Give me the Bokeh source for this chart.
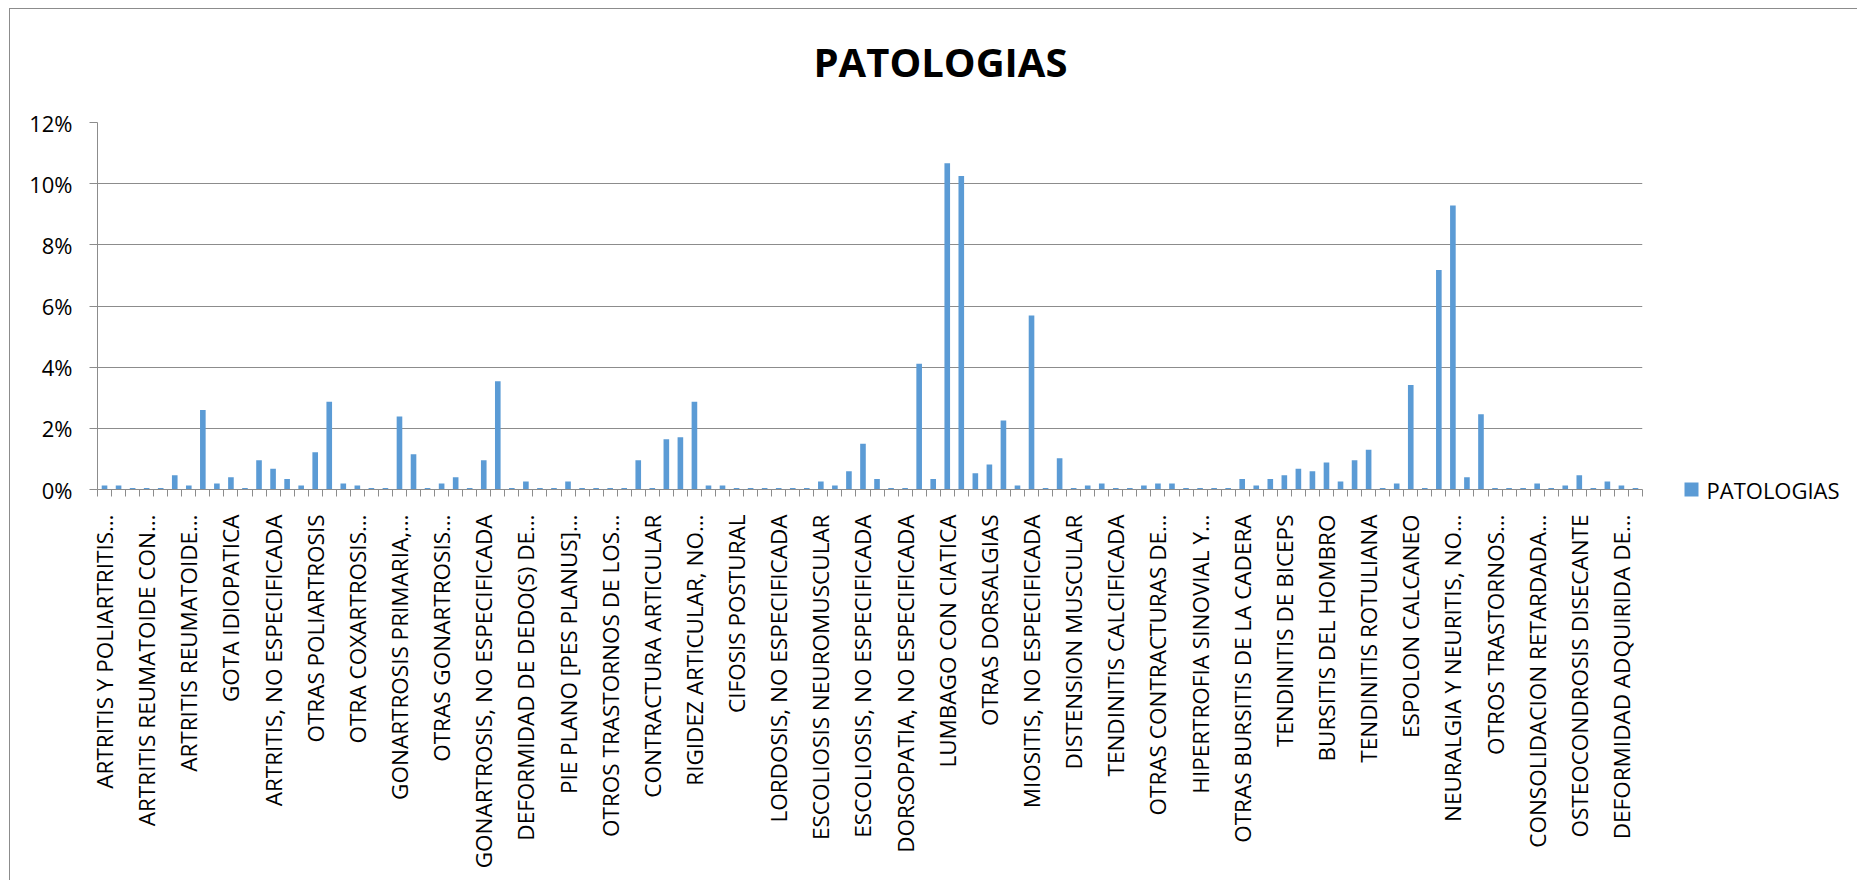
import math
from bokeh.plotting import figure
from bokeh.models import FixedTicker, NumeralTickFormatter, Range1d, LinearAxis
from bokeh.embed import file_html
from bokeh.resources import INLINE

# Percent share of each pathology (110 categories)
values_pct = [
    0.13, 0.13, 0.05, 0.05, 0.05, 0.47, 0.13, 2.60, 0.20, 0.40,
    0.05, 0.96, 0.68, 0.34, 0.13, 1.22, 2.87, 0.20, 0.13, 0.05,
    0.05, 2.39, 1.15, 0.05, 0.20, 0.40, 0.05, 0.96, 3.54, 0.05,
    0.26, 0.05, 0.05, 0.26, 0.05, 0.05, 0.05, 0.05, 0.96, 0.05,
    1.64, 1.71, 2.87, 0.13, 0.13, 0.05, 0.05, 0.05, 0.05, 0.05,
    0.05, 0.26, 0.13, 0.60, 1.50, 0.34, 0.05, 0.05, 4.11, 0.34,
    10.67, 10.25, 0.53, 0.82, 2.26, 0.13, 5.69, 0.05, 1.02, 0.05,
    0.13, 0.20, 0.05, 0.05, 0.13, 0.20, 0.20, 0.05, 0.05, 0.05,
    0.05, 0.34, 0.13, 0.34, 0.47, 0.68, 0.60, 0.88, 0.26, 0.96,
    1.30, 0.05, 0.20, 3.42, 0.05, 7.18, 9.29, 0.40, 2.46, 0.05,
    0.05, 0.05, 0.20, 0.05, 0.13, 0.47, 0.05, 0.26, 0.13, 0.05,
]

# Category labels shown on the axis (every third category)
tick_labels = [
    "ARTRITIS Y POLIARTRITIS…",
    "ARTRITIS REUMATOIDE CON…",
    "ARTRITIS REUMATOIDE…",
    "GOTA IDIOPATICA",
    "ARTRITIS, NO ESPECIFICADA",
    "OTRAS POLIARTROSIS",
    "OTRA COXARTROSIS…",
    "GONARTROSIS PRIMARIA,…",
    "OTRAS GONARTROSIS…",
    "GONARTROSIS, NO ESPECIFICADA",
    "DEFORMIDAD DE DEDO(S) DE…",
    "PIE PLANO [PES PLANUS]…",
    "OTROS TRASTORNOS DE LOS…",
    "CONTRACTURA ARTICULAR",
    "RIGIDEZ ARTICULAR, NO…",
    "CIFOSIS POSTURAL",
    "LORDOSIS, NO ESPECIFICADA",
    "ESCOLIOSIS NEUROMUSCULAR",
    "ESCOLIOSIS, NO ESPECIFICADA",
    "DORSOPATIA, NO ESPECIFICADA",
    "LUMBAGO CON CIATICA",
    "OTRAS DORSALGIAS",
    "MIOSITIS, NO ESPECIFICADA",
    "DISTENSION MUSCULAR",
    "TENDINITIS CALCIFICADA",
    "OTRAS CONTRACTURAS DE…",
    "HIPERTROFIA SINOVIAL Y…",
    "OTRAS BURSITIS DE LA CADERA",
    "TENDINITIS DE BICEPS",
    "BURSITIS DEL HOMBRO",
    "TENDINITIS ROTULIANA",
    "ESPOLON CALCANEO",
    "NEURALGIA Y NEURITIS, NO…",
    "OTROS TRASTORNOS…",
    "CONSOLIDACION RETARDADA…",
    "OSTEOCONDROSIS DISECANTE",
    "DEFORMIDAD ADQUIRIDA DE…",
]
label_step = 3

y_ticks_pct = [0, 2, 4, 6, 8, 10, 12]
series_name = "PATOLOGIAS"
title_text = "PATOLOGIAS"

n = len(values_pct)
xs = list(range(n))
tops = [v / 100.0 for v in values_pct]
label_pos = [i * label_step for i in range(len(tick_labels))]

FONT = "Open Sans"
GRID = "#8c8c8c"
BAR = "#5B9BD5"

p = figure(
    width=1850, height=874,
    output_backend="svg", toolbar_location=None,
    x_range=Range1d(-0.5, n - 0.5), y_range=Range1d(0, y_ticks_pct[-1] / 100.0),
    min_border_left=87, min_border_right=218, min_border_top=113, min_border_bottom=394,
    title=title_text,
)
p.outline_line_color = None
p.background_fill_color = "white"
p.border_fill_color = "white"
p.styles = {
    "margin-left": "9px", "margin-top": "8px",
    "border-left": "1px solid #8c8c8c", "border-top": "1px solid #8c8c8c",
    "clip-path": "inset(0px 2px 2px 0px)",
}

p.title.text_font = FONT
p.title.text_font_size = "40px"
p.title.text_font_style = "bold"
p.title.text_color = "black"
p.title.align = "left"
p.title.vertical_align = "top"
p.title.offset = 716
p.title.standoff = 10

r = p.vbar(x=xs, top=tops, width=0.4, fill_color=BAR, line_color=None)

# y axis
yax = p.left[0]
yax.ticker = FixedTicker(ticks=[t / 100.0 for t in y_ticks_pct])
yax.formatter = NumeralTickFormatter(format="0%")
yax.axis_line_color = GRID
yax.major_tick_line_color = GRID
yax.major_tick_out = 8
yax.major_tick_in = 0
yax.minor_tick_line_color = None
yax.major_label_standoff = 17
yax.major_label_text_font = FONT
yax.major_label_text_font_size = "22px"
yax.major_label_text_color = "black"

p.ygrid.grid_line_color = GRID
p.xgrid.visible = False

# x axis
xax = p.below[0]
xax.ticker = FixedTicker(ticks=label_pos, minor_ticks=[i - 0.5 for i in range(n + 1)])
xax.major_label_overrides = {pos: lab for pos, lab in zip(label_pos, tick_labels)}
xax.axis_line_color = GRID
xax.major_tick_line_color = None
xax.major_tick_out = 0
xax.major_tick_in = 0
xax.minor_tick_line_color = GRID
xax.minor_tick_out = 7
xax.minor_tick_in = 0
xax.major_label_orientation = math.pi / 2
xax.major_label_standoff = 18
xax.major_label_text_font = FONT
xax.major_label_text_font_size = "22.5px"
xax.major_label_text_color = "black"


def spacer_axis(size):
    ax = LinearAxis(ticker=FixedTicker(ticks=[0]))
    ax.axis_line_color = None
    ax.major_tick_line_color = None
    ax.major_tick_out = size
    ax.major_tick_in = 0
    ax.minor_tick_line_color = None
    ax.major_label_overrides = {0: ""}
    ax.major_label_standoff = 0
    ax.major_label_text_font_size = "0px"
    return ax


# spacer between the plot area and the title
p.add_layout(spacer_axis(27), "above")

# Legend (drawn in the right panel: a spacer axis, then the key swatch + series name)
p.add_layout(spacer_axis(42), "right")

ax_leg = LinearAxis(ticker=FixedTicker(ticks=[0]))
ax_leg.axis_line_color = None
ax_leg.major_tick_line_color = BAR
ax_leg.major_tick_line_width = 14
ax_leg.major_tick_line_cap = "butt"
ax_leg.major_tick_out = 14
ax_leg.major_tick_in = 0
ax_leg.minor_tick_line_color = None
ax_leg.major_label_overrides = {0: series_name}
ax_leg.major_label_standoff = 8
ax_leg.major_label_text_font = FONT
ax_leg.major_label_text_font_size = "22px"
ax_leg.major_label_text_color = "black"
p.add_layout(ax_leg, "right")

open("out.html", "w").write(file_html(p, INLINE))
